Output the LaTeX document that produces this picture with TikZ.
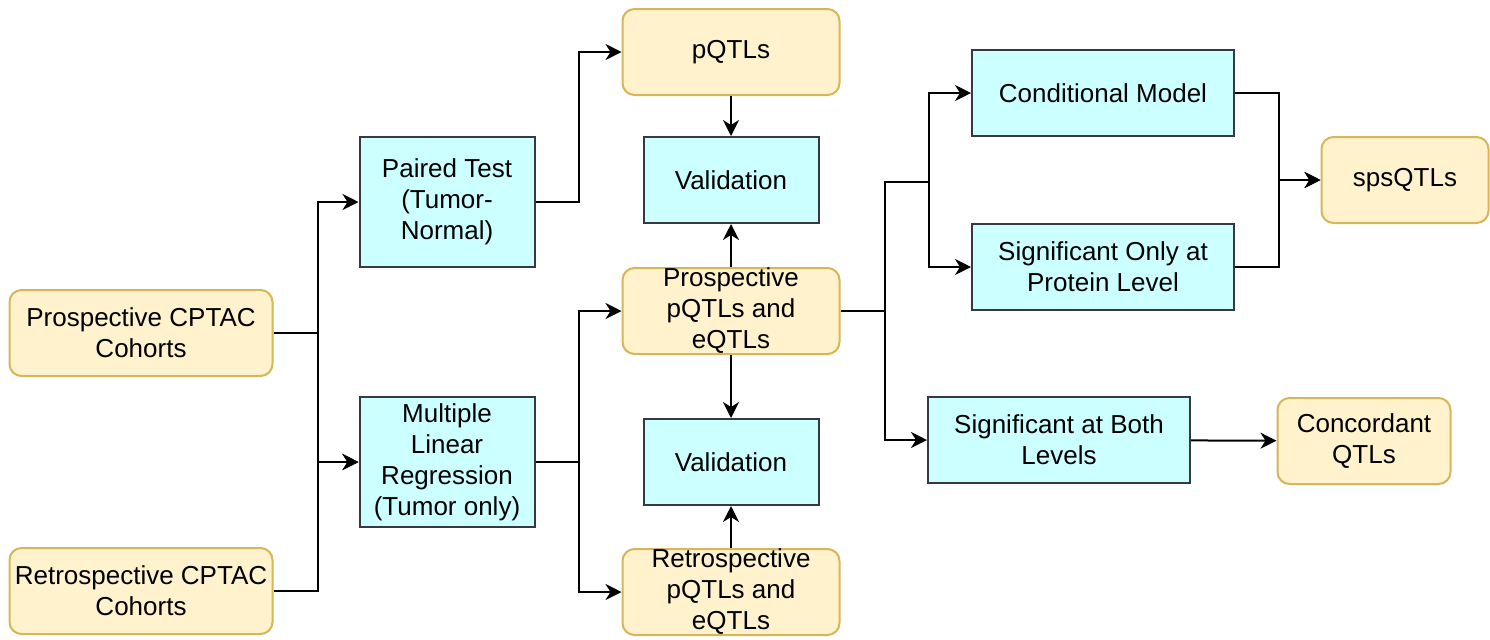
\documentclass[tikz,border=0pt]{standalone}
\usepackage{fontspec}
\setmainfont{Liberation Sans}
\usetikzlibrary{arrows.meta}
\definecolor{datafill}{HTML}{FFF2CC}
\definecolor{dataline}{HTML}{D6B656}
\definecolor{procfill}{HTML}{CCFFFF}
\definecolor{procline}{HTML}{36393D}

\begin{document}
\begin{tikzpicture}[x=0.5pt, y=-0.5pt,
 every text node part/.style={align=center},
 every node/.style={font=\fontsize{13}{15.5}\selectfont},
data/.style={rectangle, rounded corners=6pt, inner sep=0pt, minimum width=108.5pt, minimum height=43pt, draw=dataline, fill=datafill, line width=1pt},
proc/.style={rectangle, inner sep=0pt, minimum width=87.5pt, minimum height=43pt, draw=procline, fill=procfill, line width=1pt},
arrow/.style={-{Stealth[length=8pt, width=8pt, inset=2.5pt]}, line width=1pt},
wire/.style={line width=1pt}]

\useasboundingbox (0, 0) rectangle (1490, 639);

% inputs
\node[data, minimum width=131.5pt] (pros) at (141, 333) {Prospective CPTAC\\Cohorts};
\node[data, minimum width=131.5pt] (retro) at (141, 591) {Retrospective CPTAC\\Cohorts};

% tests
\node[proc, minimum height=65pt] (paired) at (447, 202) {Paired Test\\(Tumor-\\Normal)};
\node[proc, minimum height=65pt] (mlr) at (447, 462) {Multiple\\Linear\\Regression\\(Tumor only)};

\draw[arrow] (pros.east) -- ++(44, 0) |- (paired.west);
\draw[arrow] (pros.east) -- ++(44, 0) |- (mlr.west);
\draw[arrow] (retro.east) -- ++(44, 0) |- (mlr.west);

% QTLs and validation
\node[data] (pqtl) at (731, 52) {pQTLs};
\node[proc] (valtop) at (731, 180) {Validation};
\node[data] (prosq) at (731, 311) {Prospective\\pQTLs and\\eQTLs};
\node[proc] (valbot) at (731, 462) {Validation};
\node[data] (retroq) at (731, 592) {Retrospective\\pQTLs and\\eQTLs};

\draw[arrow] (paired.east) -- ++(43, 0) |- (pqtl.west);
\draw[arrow] (mlr.east) -- ++(43, 0) |- (prosq.west);
\draw[arrow] (mlr.east) -- ++(43, 0) |- (retroq.west);

\draw (pqtl) edge[arrow] (valtop);
\draw (prosq) edge[arrow] (valtop);
\draw (prosq) edge[arrow] (valbot);
\draw (retroq) edge[arrow] (valbot);

% comparison of levels
\node[proc, minimum width=131pt] (cond) at (1103, 93) {Conditional Model};
\node[proc, minimum width=131pt] (sigonly) at (1103, 267) {Significant Only at\\Protein Level};
\node[proc, minimum width=131pt] (sigboth) at (1059, 440) {Significant at Both\\Levels};
\node[data, minimum width=83.5pt] (spsq) at (1405, 180) {spsQTLs};
\node[data, minimum width=86.5pt] (conc) at (1364, 441) {Concordant\\QTLs};

\draw[wire] (prosq.east) -- ++(44, 0) coordinate (fork);
\draw[arrow] (fork) |- (sigboth.west);
\draw[wire] (fork) |- ++(44, -129) coordinate (fork2);
\draw[arrow] (fork2) |- (cond.west);
\draw[arrow] (fork2) |- (sigonly.west);

\draw[arrow] (cond.east) -- ++(44, 0) |- (spsq.west);
\draw[arrow] (sigonly.east) -- ++(44, 0) |- (spsq.west);
\draw (sigboth) edge[arrow] (conc);

\end{tikzpicture}
\end{document}
